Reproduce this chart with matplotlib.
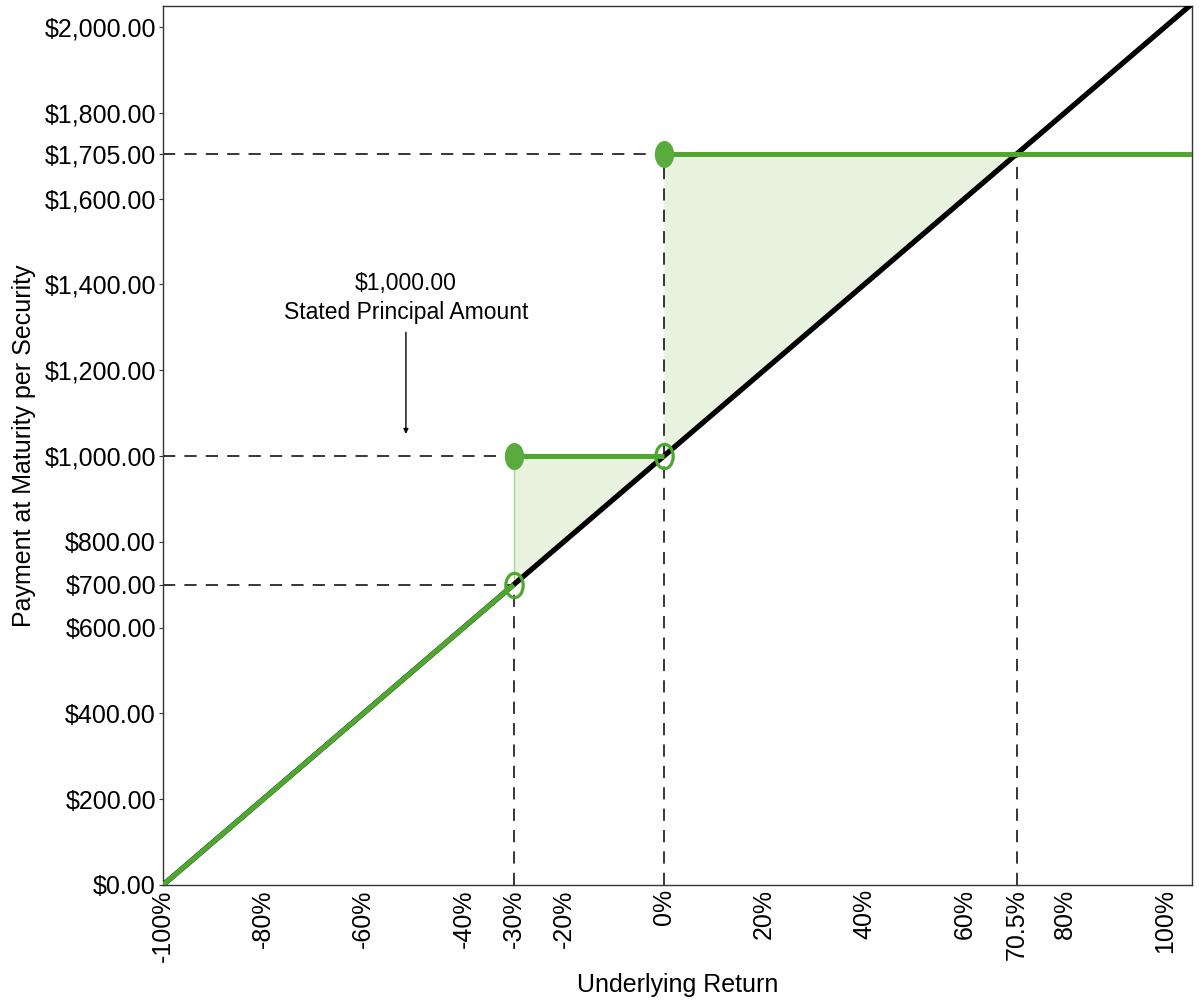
import numpy as np
import matplotlib
matplotlib.use("Agg")
import matplotlib.pyplot as plt
from matplotlib.path import Path

plt.rcParams['font.family'] = ['Liberation Sans', 'DejaVu Sans']

# ---- data ----
principal = 1000.0
buffer_ret = -30.0          # %
cap_payment = 1705.0
breakeven_ret = 70.5        # %
x_min, x_max = -100.0, 105.4
y_min, y_max = 0.0, 2049.0

x_ticks = [-100, -80, -60, -40, -30, -20, 0, 20, 40, 60, 70.5, 80, 100]
x_tick_labels = ['-100%', '-80%', '-60%', '-40%', '-30%', '-20%', '0%', '20%', '40%', '60%', '70.5%', '80%', '100%']
y_ticks = [0, 200, 400, 600, 700, 800, 1000, 1200, 1400, 1600, 1705, 1800, 2000]
y_tick_labels = ['$0.00', '$200.00', '$400.00', '$600.00', '$700.00', '$800.00', '$1,000.00',
                 '$1,200.00', '$1,400.00', '$1,600.00', '$1,705.00', '$1,800.00', '$2,000.00']

annot_text = "$1,000.00\nStated Principal Amount"
annot_x = -51.5
annot_text_y = 1368
annot_arrow_y = 1045

def underlying(r):
    return principal * (1 + np.asarray(r) / 100.0)

green = '#4ea72e'
green_marker = '#59ab3e'
fill_col = '#e9f2de'

fig = plt.figure(figsize=(12, 10), dpi=100)
ax = fig.add_axes([0.1358, 0.115, 0.9933 - 0.1358, 0.994 - 0.115])

# fill region
xf1 = np.array([buffer_ret, 0.0])
ax.fill_between(xf1, underlying(xf1), principal, color=fill_col, lw=0, zorder=1)
xf2 = np.array([0.0, breakeven_ret])
ax.fill_between(xf2, underlying(xf2), cap_payment, color=fill_col, lw=0, zorder=1)
ax.plot([buffer_ret, buffer_ret], [underlying(buffer_ret), principal], color='#a8d495', lw=1, zorder=1.5)

# dashed reference lines
dash = dict(color='black', lw=1.1, ls=(0, (8, 6)), zorder=2)
ax.plot([x_min, 0], [cap_payment, cap_payment], **dash)
ax.plot([x_min, buffer_ret], [principal, principal], **dash)
ax.plot([x_min, buffer_ret], [underlying(buffer_ret), underlying(buffer_ret)], **dash)
ax.plot([buffer_ret, buffer_ret], [y_min, underlying(buffer_ret)], **dash)
ax.plot([0, 0], [y_min, cap_payment], **dash)
ax.plot([breakeven_ret, breakeven_ret], [y_min, cap_payment], **dash)

# underlying line
xu = np.array([x_min, x_max])
ax.plot(xu, underlying(xu), color='black', lw=3.8, zorder=3, solid_capstyle='butt')

# security payoff
xs1 = np.array([x_min, buffer_ret])
ax.plot(xs1, underlying(xs1), color=green, lw=3.6, zorder=4, solid_capstyle='butt')
ax.plot([buffer_ret, 0], [principal, principal], color=green, lw=3.6, zorder=4, solid_capstyle='butt')
ax.plot([0, x_max], [cap_payment, cap_payment], color=green, lw=3.6, zorder=4, solid_capstyle='butt')

# elliptical markers
circ = Path.unit_circle()
ell = Path(circ.vertices * np.array([1.0, 1.4]), circ.codes)
ax.plot([buffer_ret, 0], [principal, cap_payment], ls='none', marker=ell, ms=19.5,
        mfc=green_marker, mec=green_marker, mew=0, zorder=5)
ax.plot([buffer_ret, 0], [underlying(buffer_ret), principal], ls='none', marker=ell, ms=17.5,
        mfc='none', mec=green, mew=2.3, zorder=5)

# annotation
ax.annotate('', xy=(annot_x, annot_arrow_y), xytext=(annot_x, 1295),
            arrowprops=dict(arrowstyle='-|>', color='black', lw=1, mutation_scale=7), zorder=6)
ax.text(annot_x, annot_text_y, annot_text, ha='center', va='center', fontsize=16.5,
        linespacing=1.3, zorder=6)

ax.set_xlim(x_min, x_max)
ax.set_ylim(y_min, y_max)
ax.set_xticks(x_ticks)
ax.set_xticklabels(x_tick_labels, rotation=90, fontsize=18)
ax.set_yticks(y_ticks)
ax.set_yticklabels(y_tick_labels, fontsize=18)
ax.tick_params(axis='x', length=0, pad=3)
ax.tick_params(axis='y', length=3, width=0.8, color='#333333', pad=2)
for s in ax.spines.values():
    s.set_color('#333333')
    s.set_linewidth(1)

ax.set_xlabel('Underlying Return', fontsize=18, labelpad=8)
ax.set_ylabel('Payment at Maturity per Security', fontsize=18, labelpad=6)

fig.savefig('out.png', dpi=100)
